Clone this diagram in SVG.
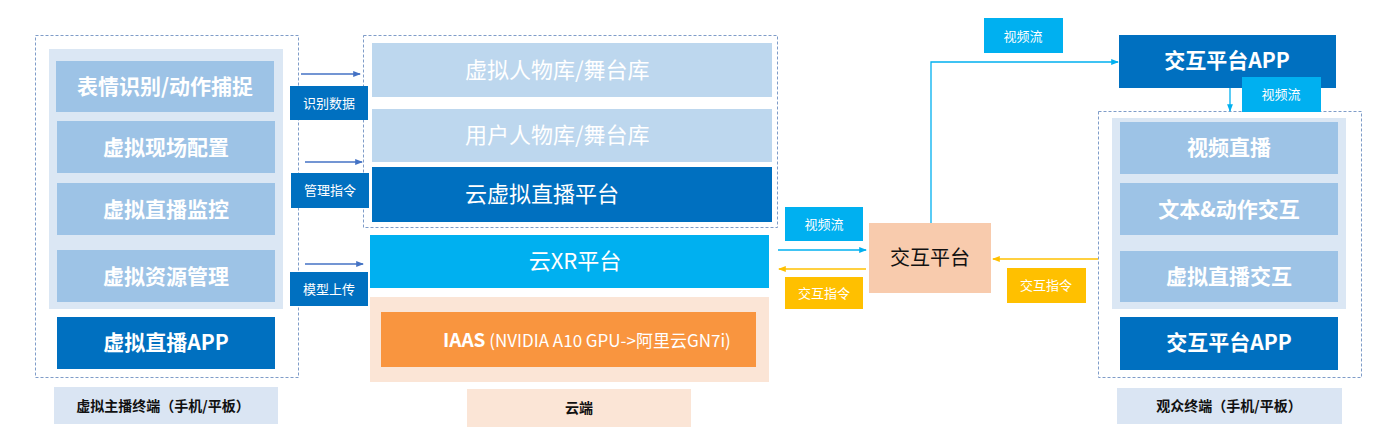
<svg xmlns="http://www.w3.org/2000/svg" width="1400" height="438" viewBox="0 0 1400 438">
<defs>
<style>
text{font-family:"Noto Sans CJK SC","Noto Sans",sans-serif;}
.dash{fill:none;stroke:#7f9cc8;stroke-width:1;stroke-dasharray:3 2;}
.panel{fill:#dbe7f4;}
.lb{fill:#9dc3e6;}
.lb2{fill:#bdd7ee;}
.db{fill:#0070c0;}
.cy{fill:#00b0f0;}
.yl{fill:#ffc000;}
.pe{fill:#fbe5d6;}
.cap{fill:#dae5f3;}
.tb{fill:#fff;font-size:21px;font-weight:bold;text-anchor:middle;}
.tm{fill:#fff;font-size:22px;}
.ts{fill:#fff;font-size:13px;text-anchor:middle;}
.tc{fill:#111;font-size:14px;font-weight:bold;text-anchor:middle;}
.ln{fill:none;stroke-width:1.3;}
</style>
<marker id="ab" viewBox="0 0 8 8" refX="7" refY="4" markerWidth="6" markerHeight="6" orient="auto"><path d="M0,1 L8,4 L0,7 z" fill="#4472c4"/></marker>
<marker id="ac" viewBox="0 0 8 8" refX="7" refY="4" markerWidth="6" markerHeight="6" orient="auto"><path d="M0,1 L8,4 L0,7 z" fill="#00b0f0"/></marker>
<marker id="ay" viewBox="0 0 8 8" refX="7" refY="4" markerWidth="6" markerHeight="6" orient="auto"><path d="M0,1 L8,4 L0,7 z" fill="#ffc000"/></marker>
</defs>

<g id="left-terminal">
<rect class="dash" x="35.5" y="35.5" width="263" height="342"/>
<rect class="panel" x="49" y="49" width="234" height="260"/>
<g id="n-biaoqing"><rect class="lb" x="56" y="61" width="218" height="51"/><text class="tb" x="165" y="94">表情识别/动作捕捉</text></g>
<g id="n-xianchang"><rect class="lb" x="57" y="121" width="218" height="52"/><text class="tb" x="166" y="155">虚拟现场配置</text></g>
<g id="n-jiankong"><rect class="lb" x="57" y="183" width="218" height="52"/><text class="tb" x="166" y="217">虚拟直播监控</text></g>
<g id="n-ziyuan"><rect class="lb" x="57" y="250" width="218" height="52"/><text class="tb" x="166" y="284">虚拟资源管理</text></g>
<g id="n-app-left"><rect class="db" x="57" y="317" width="218" height="52"/><text class="tb" x="166" y="350">虚拟直播APP</text></g>
<g id="cap-left"><rect class="cap" x="54" y="387" width="224" height="37"/><text class="tc" x="163" y="411">虚拟主播终端（手机/平板）</text></g>
</g>

<g id="cloud">
<rect class="dash" x="363.5" y="35.5" width="414" height="192"/>
<g id="n-xuni-lib"><rect class="lb2" x="372" y="43" width="400" height="54"/><text class="tm" x="465" y="78">虚拟人物库/舞台库</text></g>
<g id="n-user-lib"><rect class="lb2" x="372" y="109" width="400" height="53"/><text class="tm" x="465" y="143">用户人物库/舞台库</text></g>
<g id="n-cloud-live"><rect class="db" x="372" y="167" width="400" height="55"/><text class="tm" x="465" y="202">云虚拟直播平台</text></g>
<g id="n-xr"><rect class="cy" x="370" y="235" width="399" height="53"/><text class="tm" x="575" y="269" text-anchor="middle">云XR平台</text></g>
<rect class="pe" x="370" y="297" width="399" height="85"/>
<g id="n-iaas"><rect x="381" y="312" width="375" height="55" fill="#f9953f"/><text x="443" y="347" fill="#fff" font-size="19"><tspan font-weight="bold">IAAS</tspan><tspan font-size="17"> (NVIDIA A10 GPU-&gt;阿里云GN7i)</tspan></text></g>
<g id="cap-cloud"><rect class="pe" x="467" y="389" width="224" height="38"/><text class="tc" x="579" y="413">云端</text></g>
</g>

<g id="n-jiaohu"><rect x="869" y="223" width="122" height="70" fill="#f8cbad"/><text x="930" y="265" font-size="20" fill="#111" text-anchor="middle">交互平台</text></g>

<g id="right-terminal">
<g id="n-app-top"><rect class="db" x="1119" y="35" width="217" height="53"/><text class="tb" x="1227" y="68">交互平台APP</text></g>
<rect class="dash" x="1098.5" y="111.5" width="263" height="266"/>
<rect class="panel" x="1112" y="118" width="234" height="191"/>
<g id="n-video-live"><rect class="lb" x="1120" y="122" width="218" height="52"/><text class="tb" x="1229" y="155">视频直播</text></g>
<g id="n-text-action"><rect class="lb" x="1120" y="183" width="218" height="52"/><text class="tb" x="1229" y="217">文本&amp;动作交互</text></g>
<g id="n-live-inter"><rect class="lb" x="1120" y="251" width="218" height="51"/><text class="tb" x="1229" y="284">虚拟直播交互</text></g>
<g id="n-app-bottom"><rect class="db" x="1120" y="317" width="218" height="53"/><text class="tb" x="1229" y="350">交互平台APP</text></g>
<g id="cap-right"><rect class="cap" x="1117" y="388" width="225" height="36"/><text class="tc" x="1229" y="411">观众终端（手机/平板）</text></g>
</g>

<g id="connectors">
<line class="ln" x1="301" y1="74" x2="360" y2="74" stroke="#4472c4" stroke-width="1" marker-end="url(#ab)"/>
<line class="ln" x1="305" y1="162" x2="362" y2="162" stroke="#4472c4" stroke-width="1" marker-end="url(#ab)"/>
<line class="ln" x1="305" y1="264" x2="363" y2="264" stroke="#4472c4" stroke-width="1" marker-end="url(#ab)"/>
<line class="ln" x1="778" y1="250" x2="866" y2="250" stroke="#00b0f0" marker-end="url(#ac)"/>
<line class="ln" x1="866" y1="269" x2="779" y2="269" stroke="#ffc000" marker-end="url(#ay)"/>
<polyline class="ln" points="931,223 931,62 1118,62" stroke="#00b0f0" marker-end="url(#ac)"/>
<line class="ln" x1="1098" y1="259" x2="993" y2="259" stroke="#ffc000" marker-end="url(#ay)"/>
<line class="ln" x1="1230" y1="88" x2="1230" y2="111" stroke="#00b0f0" marker-end="url(#ac)"/>
<g id="lbl-shibie"><rect class="db" x="290" y="86" width="78" height="34"/><text class="ts" x="329" y="108">识别数据</text></g>
<g id="lbl-guanli"><rect class="db" x="291" y="173" width="78" height="35"/><text class="ts" x="330" y="195">管理指令</text></g>
<g id="lbl-moxing"><rect class="db" x="290" y="272" width="78" height="34"/><text class="ts" x="329" y="294">模型上传</text></g>
<g id="lbl-video1"><rect class="cy" x="785" y="207" width="78" height="34"/><text class="ts" x="824" y="229">视频流</text></g>
<g id="lbl-cmd1"><rect class="yl" x="785" y="277" width="78" height="32"/><text class="ts" x="824" y="298">交互指令</text></g>
<g id="lbl-video2"><rect class="cy" x="984" y="18" width="79" height="35"/><text class="ts" x="1023" y="41" font-size="14">视频流</text></g>
<g id="lbl-cmd2"><rect class="yl" x="1007" y="268" width="79" height="35"/><text class="ts" x="1046" y="290">交互指令</text></g>
<g id="lbl-video3"><rect class="cy" x="1242" y="77" width="79" height="35"/><text class="ts" x="1281" y="99">视频流</text></g>
</g>
</svg>
